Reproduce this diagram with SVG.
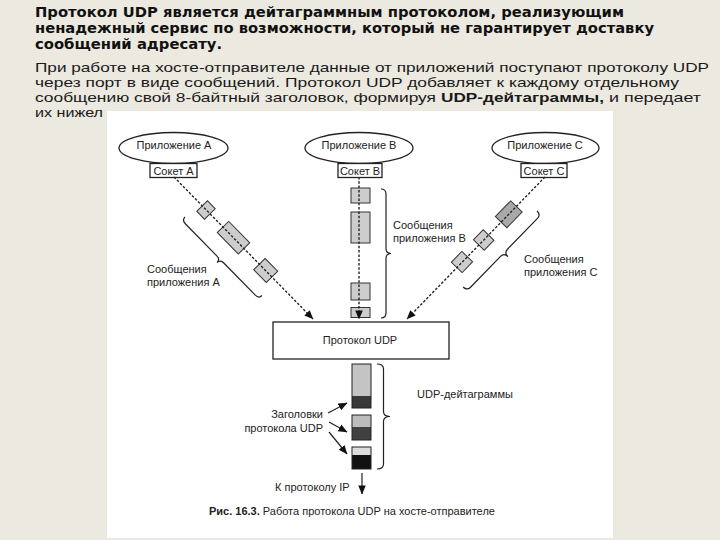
<svg xmlns="http://www.w3.org/2000/svg" width="720" height="540" viewBox="0 0 720 540">
<defs>
<marker id="ah" viewBox="0 0 10 10" refX="9.5" refY="5" markerWidth="9" markerHeight="9" markerUnits="userSpaceOnUse" orient="auto"><path d="M0,0.8 L10,5 L0,9.2 z" fill="#111"/></marker>
<style>
.bg{fill:#ECE9E0}
.h{font-family:"DejaVu Sans","Liberation Sans",sans-serif;font-weight:bold;font-size:13.7px;fill:#111}
.p{font-family:"Liberation Sans",Arial,sans-serif;font-size:13.4px;fill:#1a1a1a}
.pb{font-weight:bold}
.l{font-family:"Liberation Sans",Arial,sans-serif;font-size:11px;fill:#222}
.shape{fill:#fff;stroke:#222;stroke-width:1.3}
.msg{fill:#cdcdcd;stroke:#333;stroke-width:1}
.msgd{fill:#a9a9a9;stroke:#333;stroke-width:1}
.dash{fill:none;stroke:#222;stroke-width:1.4;stroke-dasharray:2.5 1.8;marker-end:url(#ah)}
.brace{fill:none;stroke:#222;stroke-width:1.2}
.arr{fill:none;stroke:#222;stroke-width:1.2;marker-end:url(#ah)}
</style>
</defs>
<rect class="bg" x="0" y="0" width="720" height="540"/>
<g id="heading">
<text class="h" x="35" y="17" textLength="589" lengthAdjust="spacingAndGlyphs">Протокол UDP является дейтаграммным протоколом, реализующим</text>
<text class="h" x="35" y="33" textLength="619" lengthAdjust="spacingAndGlyphs">ненадежный сервис по возможности, который не гарантирует доставку</text>
<text class="h" x="35" y="49" textLength="187" lengthAdjust="spacingAndGlyphs">сообщений адресату.</text>
</g>
<g id="paragraph">
<text class="p" x="35" y="72" textLength="674" lengthAdjust="spacingAndGlyphs">При работе на хосте-отправителе данные от приложений поступают протоколу UDP</text>
<text class="p" x="35" y="87" textLength="644" lengthAdjust="spacingAndGlyphs">через порт в виде сообщений. Протокол UDP добавляет к каждому отдельному</text>
<text class="p" x="35" y="102" textLength="401" lengthAdjust="spacingAndGlyphs">сообщению свой 8-байтный заголовок, формируя</text>
<text class="p pb" x="441" y="102" textLength="163" lengthAdjust="spacingAndGlyphs">UDP-дейтаграммы,</text>
<text class="p" x="609" y="102" textLength="92" lengthAdjust="spacingAndGlyphs">и передает</text>
<text class="p" x="35" y="117" textLength="68" lengthAdjust="spacingAndGlyphs">их нижел</text>
</g>
<rect x="107" y="111" width="506" height="427" fill="#fff"/>
<g id="appA">
<ellipse class="shape" cx="173.5" cy="148" rx="54.5" ry="15.5"/>
<text class="l" x="174" y="149" text-anchor="middle">Приложение А</text>
</g>
<g id="socketA">
<rect class="shape" x="150" y="163.5" width="47" height="14"/>
<text class="l" x="173.5" y="175" text-anchor="middle">Сокет А</text>
</g>
<g id="appB">
<ellipse class="shape" cx="359" cy="148" rx="54" ry="15.5"/>
<text class="l" x="359" y="149" text-anchor="middle">Приложение В</text>
</g>
<g id="socketB">
<rect class="shape" x="338" y="163.5" width="44" height="14"/>
<text class="l" x="360" y="175" text-anchor="middle">Сокет В</text>
</g>
<g id="appC">
<ellipse class="shape" cx="545.5" cy="148" rx="53.5" ry="15.5"/>
<text class="l" x="545" y="149" text-anchor="middle">Приложение С</text>
</g>
<g id="socketC">
<rect class="shape" x="521" y="163.5" width="46" height="14"/>
<text class="l" x="544" y="175" text-anchor="middle">Сокет С</text>
</g>
<g id="messagesA">
<rect class="msg" x="-5.5" y="-7.5" width="11" height="15" transform="translate(206,210) rotate(45.6)"/>
<rect class="msg" x="-15" y="-8" width="30" height="16" transform="translate(233.5,237.7) rotate(45.6)"/>
<rect class="msg" x="-9" y="-8" width="18" height="16" transform="translate(265.7,270.5) rotate(45.6)"/>
<path class="brace" transform="matrix(-0.714,0.7,0.7,0.714,185,217)" d="M0,0 Q4.5,0 4.5,5 L4.5,50 Q4.5,55 9,55 Q4.5,55 4.5,60 L4.5,105 Q4.5,110 0,110"/>
<text class="l" x="147" y="273">Сообщения</text>
<text class="l" x="147" y="286">приложения А</text>
</g>
<g id="messagesB">
<rect class="msg" x="351" y="188" width="19" height="15"/>
<rect class="msg" x="351" y="212" width="19" height="31"/>
<rect class="msg" x="351" y="283" width="19" height="17"/>
<rect class="msg" x="351" y="307.5" width="19" height="10"/>
<path class="brace" transform="translate(381,189)" d="M0,0 Q5,0 5,5 L5,59.5 Q5,64.5 10,64.5 Q5,64.5 5,69.5 L5,124 Q5,129 0,129"/>
<text class="l" x="393" y="229">Сообщения</text>
<text class="l" x="393" y="242">приложения В</text>
</g>
<g id="messagesC">
<rect class="msgd" x="-11" y="-8" width="22" height="16" transform="translate(508.8,214.3) rotate(134.2)"/>
<rect class="msg" x="-7" y="-7.5" width="14" height="15" transform="translate(483.7,240) rotate(134.2)"/>
<rect class="msg" x="-7.5" y="-7.5" width="15" height="15" transform="translate(462,262) rotate(134.2)"/>
<path class="brace" transform="matrix(0.717,0.697,-0.697,0.717,537,211)" d="M0,0 Q5.5,0 5.5,5 L5.5,48 Q5.5,53 11,53 Q5.5,53 5.5,58 L5.5,101 Q5.5,106 0,106"/>
<text class="l" x="524" y="263">Сообщения</text>
<text class="l" x="524" y="276">приложения С</text>
</g>
<g id="udp">
<rect class="shape" x="273" y="322" width="176" height="37"/>
<text class="l" x="360" y="344" text-anchor="middle">Протокол UDP</text>
</g>
<g id="datagrams">
<rect x="352" y="364" width="19" height="32" fill="#c4c4c4"/>
<rect x="352" y="396" width="19" height="12" fill="#383838"/>
<rect x="352" y="364" width="19" height="44" fill="none" stroke="#222" stroke-width="1"/>
<rect x="352" y="415" width="19" height="12" fill="#bcbcbc"/>
<rect x="352" y="427" width="19" height="13" fill="#404040"/>
<rect x="352" y="415" width="19" height="25" fill="none" stroke="#222" stroke-width="1"/>
<rect x="352" y="447" width="19" height="8" fill="#dcdcdc"/>
<rect x="352" y="455" width="19" height="14" fill="#111"/>
<rect x="352" y="447" width="19" height="22" fill="none" stroke="#222" stroke-width="1"/>
<path class="brace" transform="translate(377,364)" d="M0,0 Q6.5,0 6.5,5 L6.5,47.5 Q6.5,52.5 13,52.5 Q6.5,52.5 6.5,57.5 L6.5,100 Q6.5,105 0,105"/>
<text class="l" x="417" y="398">UDP-дейтаграммы</text>
</g>
<g id="headers">
<text class="l" x="323" y="418" text-anchor="end">Заголовки</text>
<text class="l" x="323" y="432" text-anchor="end">протокола UDP</text>
</g>
<g id="toIP">
<text class="l" x="275" y="491">К протоколу IP</text>
</g>
<g id="caption">
<text class="l" x="209" y="515"><tspan font-weight="bold">Рис. 16.3.</tspan> Работа протокола UDP на хосте-отправителе</text>
</g>
<g id="connectors">
<path class="dash" d="M174,177 L313,319"/>
<path class="dash" d="M359,177 L359,319"/>
<path class="dash" d="M545,177 L407,319"/>
<path class="arr" d="M328,413 L347,403"/>
<path class="arr" d="M329,422 L347,432"/>
<path class="arr" d="M329,432 L347,454"/>
<path class="arr" d="M362,473 L362,494"/>
</g>
</svg>
